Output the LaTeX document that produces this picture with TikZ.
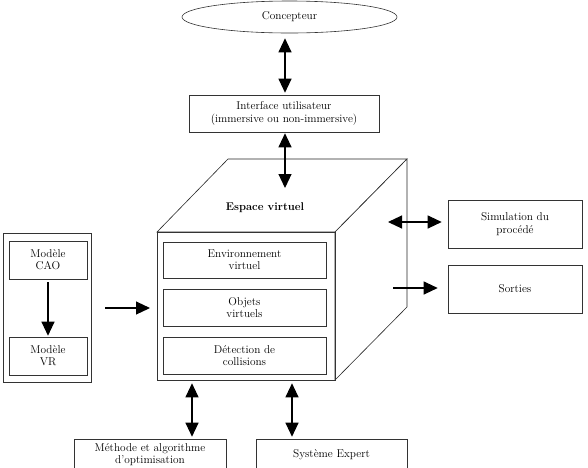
\documentclass[tikz,border=0pt]{standalone}
\usetikzlibrary{arrows.meta,shapes.geometric}
\begin{document}
\begin{tikzpicture}[x=1pt,y=-1pt,
  box/.style={draw=black!80,line width=0.6pt,rectangle,align=center,inner sep=1pt,
    font=\fontsize{11.3}{12.3}\selectfont},
  face/.style={draw=black!85,line width=0.6pt,fill=white},
  conn/.style={line width=1.1pt,-{Triangle[width=13pt,length=14pt]}},
  dconn/.style={line width=1.1pt,{Triangle[width=13pt,length=14pt]}-{Triangle[width=13pt,length=14pt]}}]
\useasboundingbox (0,0) rectangle (588,467);
\clip (0,0) rectangle (588,467);
% ellipse
\node[box,ellipse,minimum width=215pt,minimum height=32pt,inner sep=0pt] (conc) at (289.5,17) {Concepteur};
% interface
\node[box,minimum width=190pt,minimum height=37pt] (iface) at (284,113.5) {Interface utilisateur\\(immersive ou non-immersive)};
% cube
\draw[face] (157,232) -- (228,159) -- (407,159) -- (335,232) -- cycle;
\draw[face] (335,232) -- (407,159) -- (407,307) -- (335,380) -- cycle;
\node[box,minimum width=178pt,minimum height=148pt] (cube) at (246,306) {};
\node[font=\fontsize{11.2}{13}\selectfont\bfseries] (esp) at (265,208) {Espace virtuel};
\node[box,minimum width=163pt,minimum height=36pt] (env) at (244.5,260) {Environnement\\virtuel};
\node[box,minimum width=163pt,minimum height=37pt] (obj) at (244.5,307.5) {Objets\\virtuels};
\node[box,minimum width=163pt,minimum height=37pt] (det) at (244.5,355.5) {D\'etection de\\collisions};
% left
\node[box,minimum width=88pt,minimum height=149pt] (left) at (47,307.5) {};
\node[box,minimum width=78pt,minimum height=38pt] (cao) at (48,260) {Mod\`ele\\CAO};
\node[box,minimum width=78pt,minimum height=38pt] (vr) at (48,356) {Mod\`ele\\VR};
% right
\node[box,minimum width=134pt,minimum height=48pt] (sim) at (515,224) {Simulation du\\proc\'ed\'e};
\node[box,minimum width=134pt,minimum height=48pt] (sort) at (515,289) {Sorties};
% bottom
\node[box,minimum width=152pt,minimum height=31pt] (meth) at (150,454.5) {M\'ethode et algorithme\\d'optimisation};
\node[box,minimum width=151pt,minimum height=31pt] (sys) at (331.5,454.5) {Syst\`eme Expert};
% free-end coordinates
\coordinate (topin) at (285,188);
\coordinate (simfrom) at (388,222);
\coordinate (sortfrom) at (393,288);
\coordinate (leftto) at (150,308);
% connectors
\draw[dconn,shorten <=5pt,shorten >=2pt] (conc.south -| 285,0) -- (iface.north -| 285,0);
\draw[dconn,shorten <=1pt] (iface.south -| 285,0) -- (topin);
\draw[conn,shorten <=3pt,shorten >=1pt] (cao.south) -- (vr.north);
\draw[conn,shorten <=14pt] (left.east |- leftto) -- (leftto);
\draw[dconn,shorten >=6pt] (simfrom) -- (sim.west |- simfrom);
\draw[conn,shorten >=10pt] (sortfrom) -- (sort.west |- sortfrom);
\draw[dconn,shorten <=3pt,shorten >=2pt] (cube.south -| 192,0) -- (meth.north -| 192,0);
\draw[dconn,shorten <=3pt,shorten >=2pt] (cube.south -| 292,0) -- (sys.north -| 292,0);
\end{tikzpicture}
\end{document}
